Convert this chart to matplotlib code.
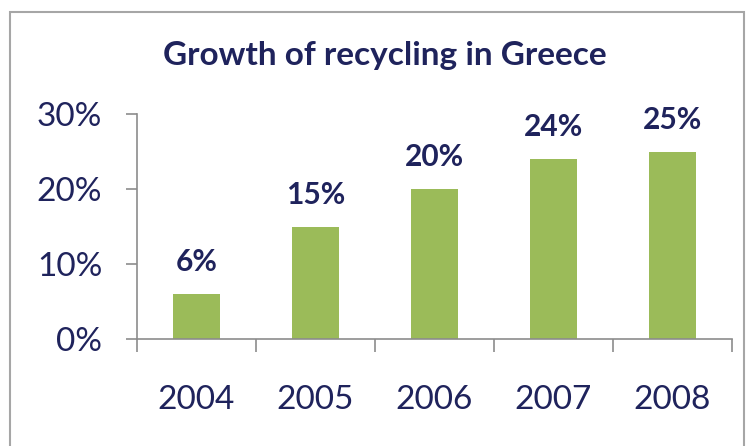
import matplotlib.pyplot as plt
from matplotlib.patches import Rectangle

# data
years = ['2004', '2005', '2006', '2007', '2008']
recycling_pct = [6, 15, 20, 24, 25]
y_ticks = [0, 10, 20, 30]
y_tick_labels = ['0%', '10%', '20%', '30%']
title_text = 'Growth of recycling in Greece'

TEXT_COLOR = '#1f235c'
BAR_COLOR = '#9bbb59'
AXIS_COLOR = '#8c8c8c'

plt.rcParams['font.family'] = ['Lato', 'DejaVu Sans']

W, H = 751, 446
fig = plt.figure(figsize=(W / 100, H / 100), dpi=100)
fig.patch.set_facecolor('white')

# outer chart border
fig.patches.append(Rectangle((10 / W, -0.05), 734 / W, 1.05 - 12 / H,
                             transform=fig.transFigure, fill=False,
                             edgecolor='#a6a6a6', linewidth=1.5))

ax = fig.add_axes([137 / W, 1 - 339 / H, 595 / W, 225 / H])
x = list(range(len(years)))
ax.bar(x, recycling_pct, width=0.4, color=BAR_COLOR, zorder=2)

for xi, v in zip(x, recycling_pct):
    ax.annotate(f'{v}%', (xi, v), xytext=(0, 23), textcoords='offset points',
                ha='center', va='center', fontsize=21.5, fontweight='bold',
                color=TEXT_COLOR)

ax.set_xlim(-0.5, len(years) - 0.5)
ax.set_ylim(0, 30)

ax.set_yticks(y_ticks)
ax.set_yticklabels(y_tick_labels)
ax.set_xticks([i - 0.5 for i in range(len(years) + 1)], minor=False)
ax.set_xticklabels([''] * (len(years) + 1))
ax.set_xticks(x, minor=True)
ax.set_xticklabels(years, minor=True)

ax.tick_params(axis='x', which='major', direction='out', length=9,
               color=AXIS_COLOR, width=1.2)
ax.tick_params(axis='x', which='minor', length=0, pad=33,
               labelsize=24, labelcolor=TEXT_COLOR)
ax.tick_params(axis='y', direction='out', length=8, color=AXIS_COLOR,
               width=1.2, pad=17, labelsize=24, labelcolor=TEXT_COLOR)

for side in ['top', 'right']:
    ax.spines[side].set_visible(False)
for side in ['left', 'bottom']:
    ax.spines[side].set_color(AXIS_COLOR)
    ax.spines[side].set_linewidth(1.2)

fig.text(385 / W, 1 - 55 / H, title_text, ha='center', va='center',
         fontsize=24, fontweight='bold', color=TEXT_COLOR)

fig.savefig('out.png', dpi=100)
